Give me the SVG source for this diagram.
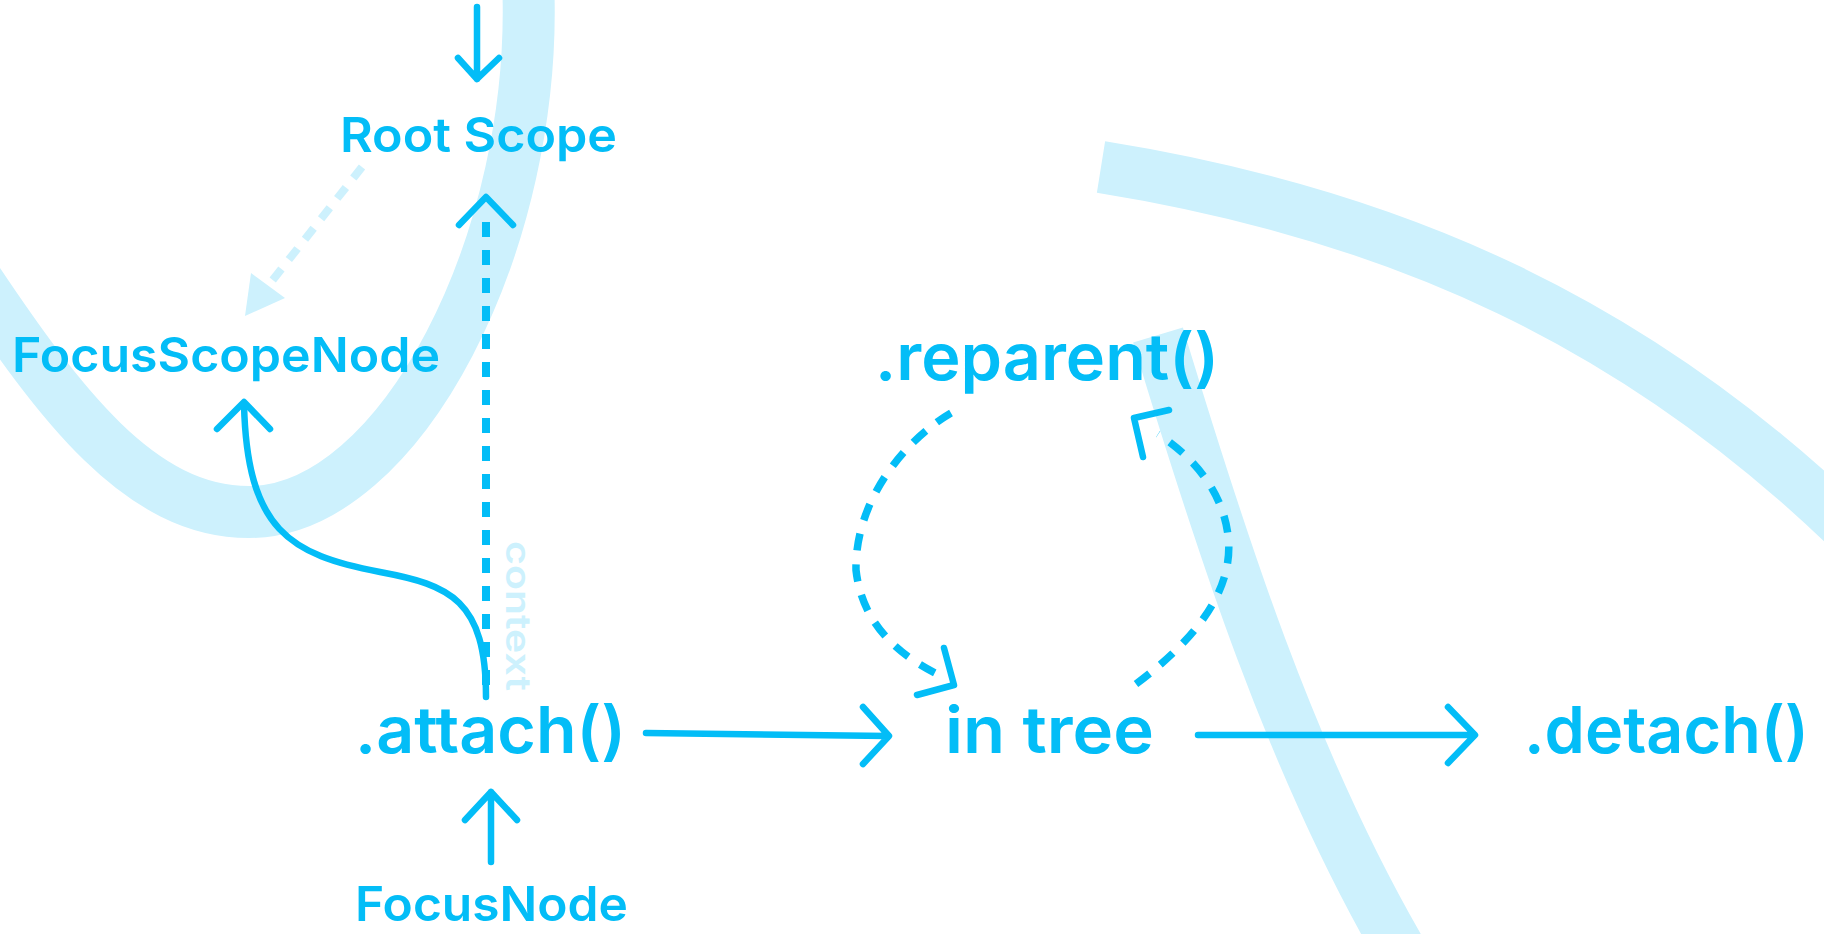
<svg xmlns="http://www.w3.org/2000/svg" width="1824" height="934" viewBox="0 0 1824 934">
<style>
.band{fill:none;stroke:#cdf1fd;stroke-width:52;stroke-linecap:butt}
.ln{fill:none;stroke:#03bdf7;stroke-width:6.5;stroke-linecap:round;stroke-linejoin:round}
.dash{fill:none;stroke:#03bdf7;stroke-width:8;stroke-dasharray:15 13}
.arc{fill:none;stroke:#03bdf7;stroke-width:7.5;stroke-dasharray:17 14}
.lt{fill:none;stroke:#cdf1fd;stroke-width:8;stroke-dasharray:14 12}
.t{font-family:Inter,"Noto Sans",sans-serif;font-weight:600;fill:#03bdf7}
.big{font-size:65px}
.mid{font-size:48px}
.ctx{font-family:Inter,"Noto Sans",sans-serif;font-weight:600;font-size:34px;fill:#cdf1fd}
</style>
<rect width="1824" height="934" fill="#ffffff"/>
<g id="bands">
<path class="band" d="M-30,270 C60,405 140,512 249,512 C400,512 540,240 528,-20"/>
<path class="band" d="M1101,167 C1400,215 1640,325 1855,535"/>
<path class="band" d="M1158,335 C1220,540 1290,760 1400,950"/>
</g>
<g id="connectors">
<path class="ln" d="M477,7 L477,79 M458,58 L477,79 L499,58"/>
<path class="lt" d="M362,167 L268,286"/>
<polygon points="251,273 285,298 245,316" fill="#cdf1fd"/>
<path class="dash" d="M486,222 L486,698"/>
<path class="ln" d="M459,225 L486,197 L513,225"/>
<path class="ln" d="M486,697 C486,600 450,585 380,572 C290,555 247,530 244,404"/>
<path class="ln" d="M217,429 L244,402 L270,429"/>
<path class="ln" d="M491,862 L491,792 M465,820 L491,792 L517,820"/>
<path class="ln" d="M646,733 L888,736 M863,707 L889,736 L863,764"/>
<path class="ln" d="M1198,735 L1474,735 M1448,707 L1475,735 L1448,763"/>
<path class="arc" d="M951,413 C905,440 855,500 856,570 C862,625 900,655 935,673"/>
<path class="ln" d="M944,648 L954,685 L917,695"/>
<path class="arc" d="M1136,684 C1195,640 1235,590 1228,535 C1222,488 1190,455 1158,434"/>
<path class="ln" d="M1169,410 L1134,418 L1143,457"/>
</g>
<g id="root-scope"><text class="t mid" x="340" y="152" textLength="277" lengthAdjust="spacingAndGlyphs">Root Scope</text></g>
<g id="focus-scope-node"><text class="t mid" x="12" y="372" textLength="428" lengthAdjust="spacingAndGlyphs">FocusScopeNode</text></g>
<g id="context-label"><text class="ctx" transform="translate(506,541) rotate(90)" textLength="150" lengthAdjust="spacingAndGlyphs">context</text></g>
<g id="attach"><text class="t big" x="355" y="753" textLength="271" lengthAdjust="spacingAndGlyphs">.attach()</text></g>
<g id="focus-node"><text class="t mid" x="355" y="921" textLength="273" lengthAdjust="spacingAndGlyphs">FocusNode</text></g>
<g id="in-tree"><text class="t big" x="945" y="753" textLength="209" lengthAdjust="spacingAndGlyphs">in tree</text></g>
<g id="detach"><text class="t big" x="1524" y="753" textLength="285" lengthAdjust="spacingAndGlyphs">.detach()</text></g>
<g id="reparent"><text class="t big" x="875" y="380" textLength="344" lengthAdjust="spacingAndGlyphs">.reparent()</text></g>
</svg>
